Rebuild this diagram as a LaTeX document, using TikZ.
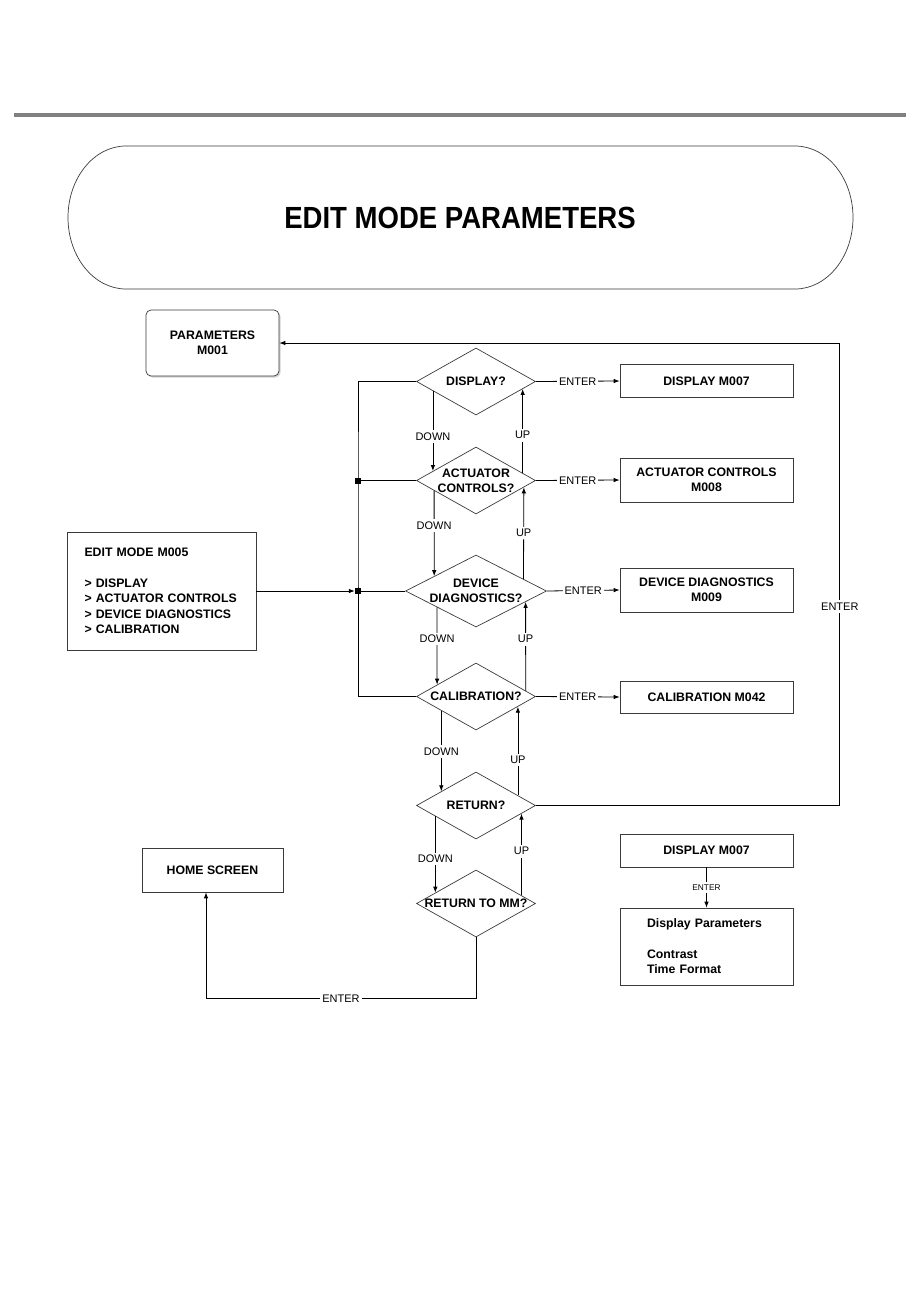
\documentclass[tikz,border=0pt]{standalone}
\usepackage{fontspec}
\setmainfont{Liberation Sans}
\newfontfamily\titlefont[FakeStretch=0.9]{Liberation Sans}
\usepackage{tikz}
\usetikzlibrary{arrows.meta,positioning,shapes.geometric,shadows,calc}
\definecolor{rulegray}{HTML}{808080}
\definecolor{bordergray}{HTML}{3a3a3a}

\begin{document}
\begin{tikzpicture}[
  x=1pt, y=1pt,
  box/.style={draw=bordergray, line width=0.7pt, fill=white, minimum width=173pt, align=center, font=\bfseries\fontsize{12.3}{15.3}\selectfont, inner sep=2pt},
  dia/.style={draw=bordergray, line width=0.7pt, diamond, minimum width=119pt, minimum height=67pt, inner sep=0pt},
  qtxt/.style={font=\bfseries\fontsize{12.3}{15.3}\selectfont, align=center},
  lbl/.style={fill=white, inner xsep=2pt, inner ysep=2.5pt, font=\fontsize{11}{13}\selectfont},
  arr/.style={-{Latex[length=6pt,width=4.5pt]}, line width=0.8pt},
  ln/.style={line width=0.8pt},
  jdot/.style={fill=black, rectangle, minimum size=6pt, inner sep=0pt}
]
\useasboundingbox (0,0) rectangle (920,-1290);
\draw[line width=4pt, rulegray] (14,-115) -- (906,-115);
% header
\draw[line width=0.7pt, bordergray] (126,-146) -- (795,-146)
  arc[start angle=90, end angle=-90, x radius=58, y radius=71.5] -- (126,-289)
  arc[start angle=270, end angle=90, x radius=58, y radius=71.5] -- cycle;
\node[font=\titlefont\bfseries\fontsize{30.6}{36}\selectfont] (ttl) at (460,-218) {EDIT MODE PARAMETERS};

% left side
\node[box, minimum width=133pt, minimum height=66pt, rounded corners=5pt, drop shadow={shadow xshift=1.5pt, shadow yshift=-1.5pt, opacity=.35}] (par) at (212.5,-343) {PARAMETERS\\M001};
\node[box, minimum width=189pt, minimum height=118pt, text width=154pt, inner xsep=17.5pt, align=left] (edit) at (161.5,-591)
  {EDIT MODE M005\\[15.3pt] > DISPLAY\\ > ACTUATOR CONTROLS\\ > DEVICE DIAGNOSTICS\\ > CALIBRATION};
\node[box, minimum width=141pt, minimum height=44pt] (home) at (212.5,-870) {HOME SCREEN};

% questions
\node[dia, label={[qtxt]center:DISPLAY?}] (qdisp) at (476,-381.5) {};
\node[dia, label={[qtxt]center:{ACTUATOR\\CONTROLS?}}] (qact) at (476,-480.5) {};
\node[dia, minimum width=141pt, minimum height=72pt, label={[qtxt]center:{DEVICE\\DIAGNOSTICS?}}] (qdev) at (476,-591) {};
\node[dia, label={[qtxt]center:CALIBRATION?}] (qcal) at (476,-696.5) {};
\node[dia, label={[qtxt]center:RETURN?}] (qret) at (476,-805.5) {};
\node[dia, label={[qtxt]center:RETURN TO MM?}] (qmm) at (476,-903.5) {};

% screens
\node[box, minimum height=33pt] (m007) at (706.5,-381) {DISPLAY M007};
\node[box, minimum height=44pt] (m008) at (706.5,-480) {ACTUATOR CONTROLS\\M008};
\node[box, minimum height=44pt] (m009) at (706.5,-590) {DEVICE DIAGNOSTICS\\M009};
\node[box, minimum height=32pt] (m042) at (706.5,-697) {CALIBRATION M042};
\node[box, minimum height=33pt] (m007b) at (706.5,-850.5) {DISPLAY M007};
\node[box, minimum height=77pt, text width=119pt, inner xsep=27pt, align=left] (dpar) at (706.5,-946.5)
  {Display Parameters\\[15.3pt] Contrast\\ Time Format};

% bus
\node[jdot] (j1) at (358,-480.5) {};
\node[jdot] (j2) at (358,-591) {};
\draw[ln] (qdisp.west) -| (j1.center) |- (qcal.west);
\draw[ln] (j1.center) -- (qact.west);
\draw[ln] (j2.center) -- (qdev.west);
\draw[arr] (edit.east) -- (j2);

% enter
\draw[arr] (qdisp.east) -- node[lbl]{ENTER} (m007.west);
\draw[arr] (qact.east) -- node[lbl]{ENTER} (m008.west);
\draw[arr] (qdev.east) -- node[lbl]{ENTER} (m009.west);
\draw[arr] (qcal.east) -- node[lbl]{ENTER} (m042.west);
\draw[arr] (m007b.south) -- node[lbl, font=\fontsize{8.3}{10}\selectfont]{ENTER} (dpar.north);
\draw[arr] (qret.east) -- ++(304,0) |- node[lbl, pos=.215]{ENTER} (par.east);
\draw[arr] (qmm.south) -- ++(0,-61) -| node[lbl, pos=.25]{ENTER} ($(home.south)+(-6.5,0)$);

% down / up
\draw[arr] ($(qdisp.west)!.28!(qdisp.south)$) -- node[lbl, pos=.57]{DOWN} ($(qact.west)!.28!(qact.north)$);
\draw[arr] ($(qact.east)!.22!(qact.north)$) -- node[lbl, pos=.45]{UP} ($(qdisp.east)!.22!(qdisp.south)$);
\draw[arr] ($(qact.west)!.3!(qact.south)$) -- node[lbl, pos=.41]{DOWN} ($(qdev.west)!.41!(qdev.north)$);
\draw[arr] ($(qdev.east)!.33!(qdev.north)$) -- node[lbl, pos=.5]{UP} ($(qact.east)!.2!(qact.south)$);
\draw[arr] ($(qdev.west)!.45!(qdev.south)$) -- node[lbl, pos=.41]{DOWN} ($(qcal.west)!.35!(qcal.north)$);
\draw[arr] ($(qcal.east)!.17!(qcal.north)$) -- node[lbl, pos=.58]{UP} ($(qdev.east)!.3!(qdev.south)$);
\draw[arr] ($(qcal.west)!.42!(qcal.south)$) -- node[lbl, pos=.51]{DOWN} ($(qret.west)!.42!(qret.north)$);
\draw[arr] ($(qret.east)!.3!(qret.north)$) -- node[lbl, pos=.4]{UP} ($(qcal.east)!.3!(qcal.south)$);
\draw[arr] ($(qret.west)!.32!(qret.south)$) -- node[lbl, pos=.56]{DOWN} ($(qmm.west)!.32!(qmm.north)$);
\draw[arr] ($(qmm.east)!.24!(qmm.north)$) -- node[lbl, pos=.54]{UP} ($(qret.east)!.24!(qret.south)$);
\end{tikzpicture}
\end{document}
